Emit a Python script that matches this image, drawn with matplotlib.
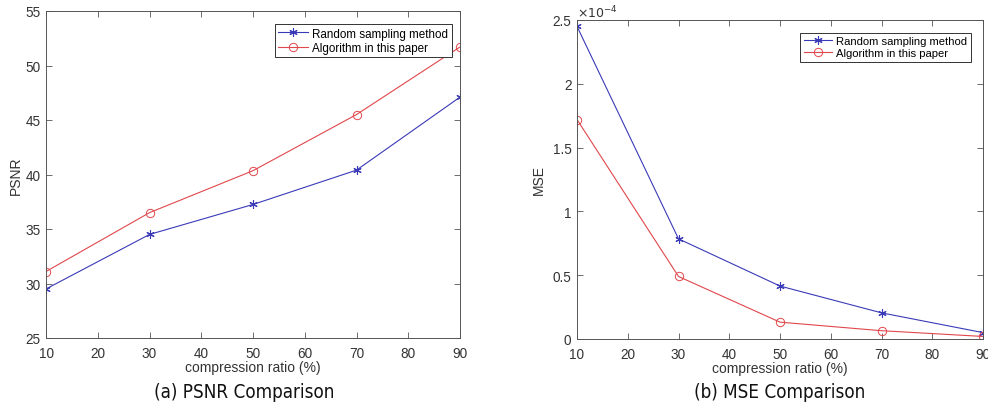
import matplotlib
matplotlib.use("Agg")
import matplotlib.pyplot as plt
from matplotlib.ticker import MultipleLocator, FuncFormatter

ratio = [10, 30, 50, 70, 90]
psnr_random = [29.5, 34.5, 37.25, 40.4, 47.1]
psnr_paper = [31.1, 36.5, 40.35, 45.5, 51.7]
mse_random = [2.45e-4, 0.785e-4, 0.415e-4, 0.205e-4, 0.05e-4]
mse_paper = [1.72e-4, 0.49e-4, 0.132e-4, 0.065e-4, 0.02e-4]
labels = ["Random sampling method", "Algorithm in this paper"]

plt.rcParams['font.family'] = ['Liberation Sans', 'DejaVu Sans']
plt.rcParams['font.size'] = 8

W, H = 988, 410
fig = plt.figure(figsize=(W / 100, H / 100), dpi=100)

blue = '#3a3ab8'
red = '#e0474c'
axcol = '#555555'
txtcol = '#333333'
star = (6, 2, 0)


def style(ax):
    for s in ax.spines.values():
        s.set_color(axcol)
        s.set_linewidth(0.7)
    ax.tick_params(direction='in', top=True, right=True, length=4, width=0.6,
                   colors=axcol, labelcolor=txtcol, labelsize=9.8)
    ax.tick_params(axis='x', pad=6)
    ax.tick_params(axis='y', pad=4)
    ax.set_xlim(10, 90)
    ax.xaxis.set_major_locator(MultipleLocator(10))


# Left axes
ax1 = fig.add_axes([46 / W, 1 - 339 / H, (460 - 46) / W, (339 - 12) / H])
ax1.plot(ratio, psnr_random, color=blue, lw=0.8, marker=star, ms=6, mew=0.8, label=labels[0])
ax1.plot(ratio, psnr_paper, color=red, lw=0.8, marker='o', ms=6, mfc='none', mew=0.7, label=labels[1])
ax1.set_ylim(25, 55)
ax1.yaxis.set_major_locator(MultipleLocator(5))
style(ax1)
ax1.set_xlabel('compression ratio (%)', fontsize=10, color=txtcol, labelpad=0)
ax1.set_ylabel('PSNR', fontsize=10, color=txtcol, labelpad=2)
leg1 = ax1.legend(loc='upper right', bbox_to_anchor=(0.98, 0.96), fontsize=8.4, fancybox=False,
                  framealpha=1, edgecolor='#333333', borderpad=0.3, labelspacing=0.2,
                  handlelength=2.5, handletextpad=0.4, borderaxespad=0)
leg1.get_frame().set_linewidth(0.7)

# Right axes
ax2 = fig.add_axes([577 / W, 1 - 340 / H, (983 - 577) / W, (340 - 21) / H])
ax2.plot(ratio, mse_random, color=blue, lw=0.8, marker=star, ms=6, mew=0.8, label=labels[0])
ax2.plot(ratio, mse_paper, color=red, lw=0.8, marker='o', ms=6, mfc='none', mew=0.7, label=labels[1])
ax2.set_ylim(0, 2.5e-4)
ax2.yaxis.set_major_locator(MultipleLocator(0.5e-4))
ax2.yaxis.set_major_formatter(FuncFormatter(lambda v, p: '%g' % round(v * 1e4, 6)))
style(ax2)
ax2.text(0.0, 0.998, r'$\times10^{-4}$', transform=ax2.transAxes, ha='left', va='bottom',
         fontsize=9, color=txtcol)
ax2.set_xlabel('compression ratio (%)', fontsize=10, color=txtcol, labelpad=0)
ax2.set_ylabel('MSE', fontsize=10, color=txtcol, labelpad=5)
leg2 = ax2.legend(loc='upper right', bbox_to_anchor=(0.97, 0.96), fontsize=8.1, fancybox=False,
                  framealpha=1, edgecolor='#333333', borderpad=0.3, labelspacing=0.2,
                  handlelength=2.5, handletextpad=0.4, borderaxespad=0)
leg2.get_frame().set_linewidth(0.7)

cap_font = ['Liberation Sans Narrow', 'DejaVu Sans']
fig.text(244 / W, 1 - 393 / H, '(a) PSNR Comparison', ha='center', va='center',
         fontsize=13.5, family=cap_font, stretch='condensed', color='#111111')
fig.text(780 / W, 1 - 393 / H, '(b) MSE Comparison', ha='center', va='center',
         fontsize=13.5, family=cap_font, stretch='condensed', color='#111111')

fig.savefig('out.png', dpi=100)
